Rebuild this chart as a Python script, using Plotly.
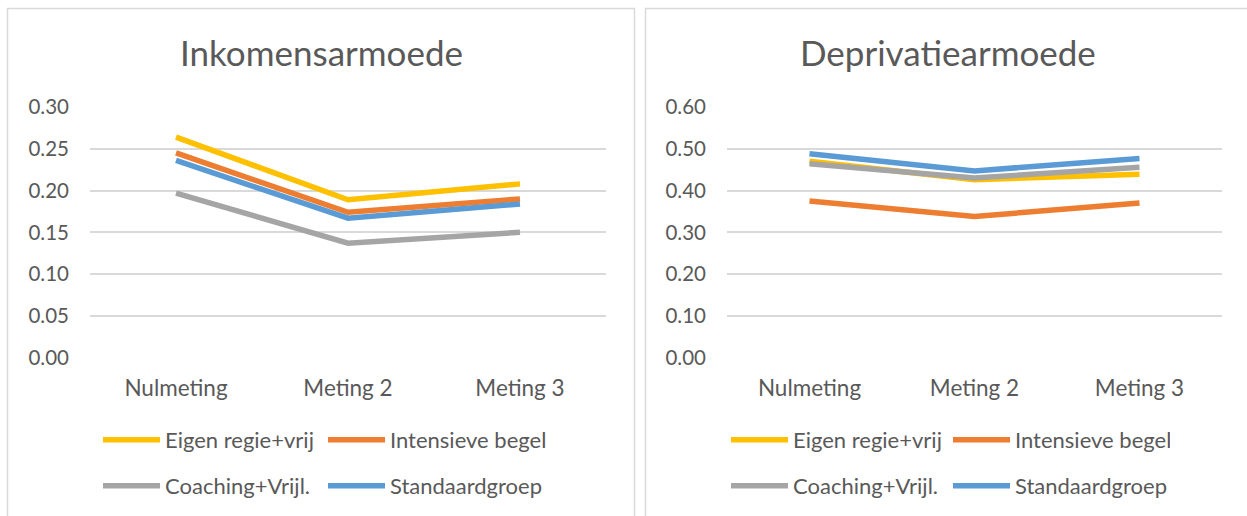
import plotly.graph_objects as go

W, H = 1247, 516

categories = ["Nulmeting", "Meting 2", "Meting 3"]
series_names = ["Eigen regie+vrij", "Intensieve begel", "Coaching+Vrijl.", "Standaardgroep"]
colors = ["#FFC000", "#ED7D31", "#A5A5A5", "#5B9BD5"]

inkomen_eigen = [0.264, 0.189, 0.208]
inkomen_intensief = [0.245, 0.174, 0.190]
inkomen_coaching = [0.197, 0.137, 0.150]
inkomen_standaard = [0.236, 0.167, 0.184]

depriv_eigen = [0.470, 0.426, 0.439]
depriv_intensief = [0.375, 0.338, 0.370]
depriv_coaching = [0.464, 0.430, 0.456]
depriv_standaard = [0.488, 0.447, 0.477]

left_ticks = [0.00, 0.05, 0.10, 0.15, 0.20, 0.25, 0.30]
right_ticks = [0.00, 0.10, 0.20, 0.30, 0.40, 0.50, 0.60]

titles = ["Inkomensarmoede", "Deprivatiearmoede"]

FONT = "Lato"
TXT = "#595959"
GRID = "#D9D9D9"

fig = go.Figure()

left_series = [inkomen_eigen, inkomen_intensief, inkomen_coaching, inkomen_standaard]
right_series = [depriv_eigen, depriv_intensief, depriv_coaching, depriv_standaard]
legend_rows_left = ["legend", "legend", "legend2", "legend2"]
legend_rows_right = ["legend3", "legend3", "legend4", "legend4"]

for i, vals in enumerate(left_series):
    fig.add_trace(go.Scatter(x=categories, y=vals, mode="lines", name=series_names[i],
                             line=dict(color=colors[i], width=5.5), xaxis="x", yaxis="y",
                             legend=legend_rows_left[i], hoverinfo="skip"))
for i, vals in enumerate(right_series):
    fig.add_trace(go.Scatter(x=categories, y=vals, mode="lines", name=series_names[i],
                             line=dict(color=colors[i], width=5.5), xaxis="x2", yaxis="y2",
                             legend=legend_rows_right[i], hoverinfo="skip"))

def px_x(v):
    return v / W

def px_y(v):
    return 1 - v / H

ytop, ybot = 107, 357.7
common_x = dict(type="category", range=[-0.5, 2.5], showgrid=False, zeroline=False,
                showline=False, ticks="", tickfont=dict(family=FONT, size=22.5, color=TXT),
                ticklabelstandoff=15, fixedrange=True, automargin=False)
common_y = dict(showgrid=True, gridcolor=GRID, gridwidth=1.5, zeroline=False, showline=False,
                ticks="", tickfont=dict(family=FONT, size=20.5, color=TXT),
                ticklabelstandoff=20, tickformat=".2f", fixedrange=True, automargin=False)

fig.update_layout(
    width=W, height=H,
    margin=dict(l=0, r=0, t=0, b=0, pad=0, autoexpand=False),
    paper_bgcolor="white", plot_bgcolor="white",
    xaxis=dict(domain=[px_x(90), px_x(606)], anchor="y", **common_x),
    yaxis=dict(domain=[px_y(ybot), px_y(ytop)], anchor="x", range=[0, 0.30],
               tickvals=left_ticks, **common_y),
    xaxis2=dict(domain=[px_x(727), px_x(1222)], anchor="y2", **common_x),
    yaxis2=dict(domain=[px_y(ybot), px_y(ytop)], anchor="x2", range=[0, 0.60],
                tickvals=right_ticks, **common_y),
    showlegend=True,
)

legend_common = dict(orientation="h", font=dict(family=FONT, size=22, color=TXT),
                     bgcolor="rgba(0,0,0,0)", xanchor="left", yanchor="middle",
                     itemwidth=57, traceorder="normal", itemclick=False, itemdoubleclick=False)
fig.update_layout(
    legend=dict(x=px_x(98), y=px_y(440), entrywidth=153, **legend_common),
    legend2=dict(x=px_x(98), y=px_y(486), entrywidth=153, **legend_common),
    legend3=dict(x=px_x(726), y=px_y(440), entrywidth=150, **legend_common),
    legend4=dict(x=px_x(726), y=px_y(486), entrywidth=150, **legend_common),
)

# panel borders
fig.add_shape(type="rect", xref="paper", yref="paper",
              x0=px_x(7.5), x1=px_x(634.5), y0=px_y(530), y1=px_y(8.5),
              line=dict(color=GRID, width=1.5), fillcolor="rgba(0,0,0,0)", layer="below")
fig.add_shape(type="rect", xref="paper", yref="paper",
              x0=px_x(645.5), x1=px_x(1260), y0=px_y(530), y1=px_y(8.5),
              line=dict(color=GRID, width=1.5), fillcolor="rgba(0,0,0,0)", layer="below")

fig.add_annotation(text=titles[0], x=px_x(321), y=px_y(52), xref="paper", yref="paper",
                   showarrow=False, xanchor="center", yanchor="middle",
                   font=dict(family=FONT, size=35, color=TXT))
fig.add_annotation(text=titles[1], x=px_x(948), y=px_y(52), xref="paper", yref="paper",
                   showarrow=False, xanchor="center", yanchor="middle",
                   font=dict(family=FONT, size=35, color=TXT))

fig.write_html("out.html", config={"displayModeBar": False},
               post_script="document.body.style.margin='0';document.body.style.overflow='hidden';")
